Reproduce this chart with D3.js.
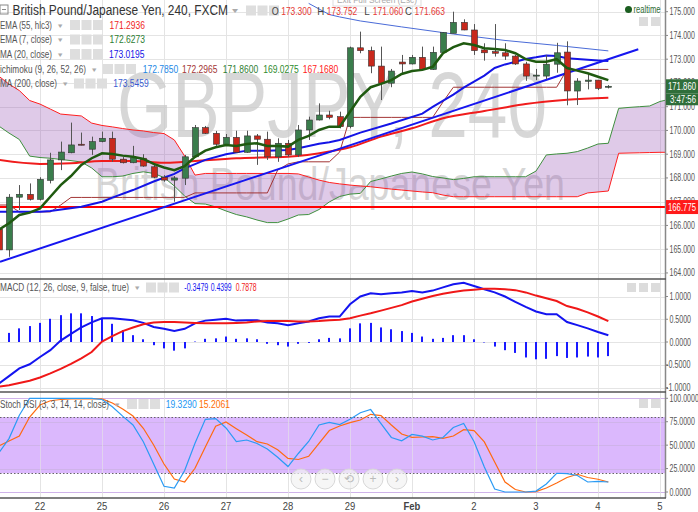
<!DOCTYPE html>
<html><head><meta charset="utf-8">
<script src="https://cdn.jsdelivr.net/npm/d3@7"></script>
<style>
body{margin:0;background:#fff;}
svg{display:block;font-family:"Liberation Sans",Arial,sans-serif;}
</style>
</head><body>
<svg id="c" width="698" height="512"></svg>
<script>
// ---------------- DATA ----------------
const firstIndex = -4; // candle index of first visible candle (index 0 = Jan 22 00:00)
const opens  = [165.85,164.97,167.19,167.31,167.10,167.90,168.76,169.06,169.42,169.21,169.53,169.67,168.79,168.64,168.83,168.47,168.03,167.91,167.99,168.89,170.12,169.88,169.42,169.71,169.08,169.77,169.63,168.89,169.46,168.97,170.02,170.44,170.65,170.58,170.16,173.48,173.36,172.71,171.99,172.88,172.80,173.08,172.57,173.29,174.09,174.55,174.23,173.39,173.32,173.27,173.13,172.80,172.29,172.29,172.79,173.300,171.66,172.07,172.12,171.82];
const highs  = [166.10,167.32,167.70,167.77,168.03,169.06,169.53,170.33,169.91,169.74,169.95,169.95,168.88,169.35,169.00,168.55,168.12,168.08,168.97,170.23,170.19,169.98,169.85,169.99,169.99,169.85,169.95,169.67,169.60,170.23,170.58,171.14,170.83,170.79,173.53,174.16,173.53,173.53,172.59,173.18,173.18,173.53,173.53,174.14,175.00,174.68,174.48,173.67,174.48,173.67,173.18,172.89,172.59,173.18,173.69,173.752,172.20,172.38,172.12,171.91];
const lows   = [164.85,164.68,166.65,167.05,167.05,167.77,168.33,169.04,169.37,168.97,169.50,168.68,168.61,168.62,168.47,167.99,167.84,167.00,167.70,168.89,169.85,169.35,169.35,169.06,169.06,168.55,168.76,168.68,168.89,168.88,169.60,170.42,170.47,170.09,170.09,173.25,172.41,171.28,171.82,172.41,172.78,172.55,172.55,173.25,174.09,174.22,173.18,172.94,173.11,172.97,172.76,172.09,172.12,172.15,172.43,171.060,171.07,171.73,171.70,171.77];
const closes = [164.97,167.19,167.31,167.10,167.94,168.76,169.09,169.39,169.39,169.53,169.67,168.79,168.64,168.85,168.50,168.03,167.91,168.00,168.89,170.12,169.88,169.42,169.71,169.08,169.77,169.63,168.89,169.46,168.97,170.02,170.44,170.65,170.55,170.16,173.48,173.36,172.71,171.99,172.50,172.80,173.08,172.57,173.29,174.12,174.55,174.23,173.36,173.27,173.25,173.13,172.80,172.29,172.33,172.79,173.27,171.663,172.08,172.12,171.77,171.86];

// EMA(7) per candle (from firstIndex)
const ema7 = [165.81,166.09,166.44,166.54,166.72,167.21,167.70,168.08,168.55,168.83,169.04,169.01,168.94,168.89,168.80,168.59,168.44,168.33,168.50,168.89,169.15,169.29,169.39,169.35,169.43,169.46,169.35,169.35,169.32,169.60,169.77,170.02,170.16,170.16,170.79,171.42,171.82,171.96,172.12,172.38,172.50,172.55,172.68,173.25,173.51,173.67,173.60,173.46,173.43,173.39,173.25,173.00,172.89,172.89,173.00,172.63,172.52,172.41,172.26,172.12];
// EMA(55) sampled at candle indices
const ema55Idx = [-4,0,3,6,9,12,14,19,24,28,30,33,36,39,43,45,47,51,55];
const ema55Val = [168.76,168.59,168.62,168.71,168.71,168.64,168.68,168.83,168.89,169.11,169.29,169.74,170.09,170.51,170.82,170.97,171.11,171.29,171.38];
// MA(20)
const ma20Idx = [-4,0,1,4,6,7,9,11,13,14,16,18,20,22,24,25,27,28,29,31,34,37,38,40,41,42,43,44,45,46,47,48,49,50,51,52,53,54,55];
const ma20Val = [166.58,166.58,166.61,166.79,167.00,167.17,167.49,167.85,168.17,168.40,168.76,169.00,169.15,169.15,169.18,169.25,169.44,169.50,169.60,169.91,170.29,170.71,170.99,171.51,171.80,172.06,172.31,172.63,172.78,172.89,173.01,173.08,173.16,173.13,173.04,173.01,172.98,172.95,172.92];
// MA(200)
const ma200Idx = [26,28,29,31,35,40,45,50,55];
const ma200Val = [175.35,174.88,174.78,174.61,174.36,174.06,173.79,173.58,173.35];
// Ichimoku base line (per candle from firstIndex)
const ichiBase = [166.86,166.86,166.57,166.57,166.57,166.57,166.86,167.18,167.18,167.18,167.18,167.18,167.18,167.18,167.18,167.18,167.18,167.18,167.18,167.37,167.37,167.37,167.37,167.37,167.37,167.37,167.37,168.33,168.59,168.68,168.68,168.68,168.68,169.09,170.55,170.55,170.55,170.55,170.55,170.55,170.55,170.55,170.55,171.20,171.82,171.82,171.82,171.82,171.82,171.82,171.82,171.82,171.82,171.82,171.82,172.57,172.57,172.57,172.57,172.57];
// Ichimoku cloud leading spans (from firstIndex to index 61)
const spanA = [170.19,169.89,169.62,168.92,168.86,168.83,168.78,168.73,168.67,168.42,168.05,168.05,168.08,168.19,168.26,168.19,168.02,167.66,167.24,166.92,166.90,166.78,166.61,166.46,166.36,166.23,166.12,166.12,166.27,166.44,166.46,166.67,166.99,167.22,167.32,167.35,167.85,167.96,168.08,168.19,168.25,168.17,168.06,168.00,167.93,167.98,168.05,168.05,168.05,168.05,168.05,168.05,168.29,168.97,169.01,169.04,169.11,169.26,169.43,169.46,170.93,170.97,171.00,171.03,171.22,171.32];
const spanB = [172.29,171.95,171.68,171.26,171.11,170.90,170.69,170.65,170.61,170.31,170.21,170.15,170.08,170.02,169.98,169.91,169.87,169.60,168.92,168.12,168.19,168.19,168.19,168.19,168.19,168.19,168.19,168.19,168.19,168.17,168.04,167.91,167.81,167.75,167.70,167.66,167.63,167.58,167.53,167.49,167.45,167.41,167.38,167.28,167.21,167.21,167.21,167.21,167.21,167.21,167.21,167.21,167.21,167.21,167.21,167.21,167.21,167.37,167.41,167.45,169.04,169.05,169.06,169.07,169.08,169.08];
// Trend line anchors (candle index, price)
const trendIdx = [-3.87, 57.9];
const trendVal = [164.47, 173.42];
const hLevel = 166.775;

// MACD per candle (from firstIndex)
const macd   = [-0.92,-0.75,-0.58,-0.49,-0.33,-0.18,0.03,0.18,0.32,0.43,0.52,0.52,0.50,0.48,0.42,0.33,0.29,0.24,0.29,0.41,0.47,0.49,0.51,0.47,0.48,0.48,0.43,0.41,0.37,0.41,0.45,0.52,0.56,0.56,0.83,1.00,1.07,1.05,1.07,1.09,1.12,1.09,1.13,1.20,1.27,1.30,1.23,1.16,1.09,1.00,0.88,0.77,0.67,0.61,0.61,0.44,0.37,0.30,0.22,0.15];
const signal = [-0.98,-0.95,-0.90,-0.85,-0.78,-0.69,-0.59,-0.48,-0.36,-0.22,0.01,0.13,0.24,0.32,0.39,0.43,0.44,0.44,0.43,0.42,0.41,0.41,0.41,0.42,0.43,0.45,0.46,0.46,0.46,0.45,0.45,0.46,0.48,0.49,0.52,0.58,0.63,0.69,0.75,0.81,0.89,0.95,1.01,1.06,1.10,1.13,1.15,1.17,1.17,1.16,1.14,1.09,1.02,0.96,0.90,0.79,0.73,0.65,0.56,0.46];
const hist   = [0.15,0.20,0.30,0.35,0.42,0.51,0.59,0.63,0.63,0.57,0.52,0.40,0.26,0.15,0.06,-0.07,-0.14,-0.19,-0.14,0.01,0.07,0.08,0.12,0.07,0.08,0.06,-0.04,-0.07,-0.10,-0.04,-0.02,0.06,0.09,0.08,0.30,0.41,0.42,0.32,0.28,0.24,0.20,0.12,0.07,0.09,0.15,0.15,0.06,-0.01,-0.10,-0.18,-0.24,-0.34,-0.38,-0.37,-0.31,-0.35,-0.34,-0.32,-0.34,-0.31];
// Stoch RSI per candle (from firstIndex)
const stochK = [41.6,57.0,82.0,100,100,100,100,100,100,100,98.7,91.0,81.0,71.5,53.7,29.9,6.1,4.3,22.9,52.0,77.6,78.4,68.3,53.9,55.5,51.8,45.9,37.0,27.2,41.1,53.9,71.5,74.2,72.0,77.6,84.6,88.0,72.9,58.2,54.7,61.4,59.6,55.5,58.2,68.8,73.1,53.9,26.7,3.2,0,0,0,1.0,8.5,20.0,19.7,17.6,10.7,11.4,10.7];
const stochD = [49.0,54.4,59.8,80.0,92.8,97.4,98.7,99.3,99.3,99.3,99.3,95.0,88.6,81.1,68.0,50.2,29.9,13.9,10.7,25.3,48.0,70.1,74.7,67.6,60.8,53.7,51.2,45.1,35.8,34.7,38.1,51.8,65.6,70.4,74.0,76.8,82.9,81.6,71.5,61.9,58.4,58.7,59.0,57.3,59.8,66.5,65.6,53.4,32.0,10.7,2.7,0,0.5,4.3,9.6,15.5,18.9,15.5,13.6,10.7];

// Axis labels
const dayIdx    = [0,6,12,18,24,30,36,42,48,54,60];
const dayLabels = ["22","25","26","27","28","29","Feb","2","3","4","5"];
const priceTicks = [164,165,166,167,168,169,170,171,172,173,174,175];
const macdTicks = [-1,-0.5,0,0.5,1];
const stochTicks = [0,25,50,75,100];

// ---------------- LAYOUT ----------------
const W = 698, plotR = 665;
const svg = d3.select("#c");
const x = d3.scaleLinear().domain([0,60]).range([40,660]);
const yP = d3.scaleLinear().domain([164,175]).range([272.95,11.7]);
const yM = d3.scaleLinear().domain([-1,1]).range([387.5,296.5]);
const yS = d3.scaleLinear().domain([0,100]).range([492,398.3]);
const panels = [{id:"pMain",y0:0,y1:279},{id:"pMacd",y0:279,y1:392},{id:"pStoch",y0:392,y1:498}];
const defs = svg.append("defs");
panels.forEach(p=>defs.append("clipPath").attr("id",p.id).append("rect").attr("x",0).attr("y",p.y0).attr("width",plotR).attr("height",p.y1-p.y0));

// text helper: width-controlled text
function T(g, xx, yy, s, o={}){
  const t = g.append("text").attr("x",xx).attr("y",yy).attr("font-size",o.size||10)
    .attr("fill",o.fill||"#555").attr("text-anchor",o.anchor||"start").text(s);
  if(o.weight) t.attr("font-weight",o.weight);
  const nat = t.node().getComputedTextLength();
  const w = o.w || nat*(o.r||0.85);
  t.attr("textLength",w).attr("lengthAdjust","spacingAndGlyphs");
  return t;
}

svg.append("rect").attr("width",W).attr("height",512).attr("fill","#fff");
const grid = svg.append("g").attr("stroke","#e4e4e4").attr("stroke-width",1);
dayIdx.forEach(d=>grid.append("line").attr("x1",Math.round(x(d))+0.5).attr("x2",Math.round(x(d))+0.5).attr("y1",0).attr("y2",498));
priceTicks.forEach(v=>grid.append("line").attr("x1",0).attr("x2",plotR).attr("y1",Math.round(yP(v))+0.5).attr("y2",Math.round(yP(v))+0.5));
macdTicks.forEach(v=>grid.append("line").attr("x1",0).attr("x2",plotR).attr("y1",Math.round(yM(v))+0.5).attr("y2",Math.round(yM(v))+0.5));

const idx = (i)=> firstIndex + i;

// ---------- MAIN PANEL ----------
const gm = svg.append("g").attr("clip-path","url(#pMain)");
gm.append("text").attr("x",332).attr("y",137).attr("text-anchor","middle").attr("font-size",92)
  .attr("fill","#c9c9c9").attr("fill-opacity",0.75).attr("textLength",430).attr("lengthAdjust","spacingAndGlyphs").text("GBPJPY, 240");
gm.append("text").attr("x",330).attr("y",200).attr("text-anchor","middle").attr("font-size",46)
  .attr("fill","#c9c9c9").attr("fill-opacity",0.75).attr("textLength",470).attr("lengthAdjust","spacingAndGlyphs").text("British Pound/Japanese Yen");

const cloudData = spanA.map((a,i)=>({k:idx(i),a:a,b:spanB[i]}));
gm.append("path").datum(cloudData).attr("fill","#9b59b6").attr("fill-opacity",0.32)
  .attr("d",d3.area().x(d=>x(d.k)).y0(d=>yP(d.a)).y1(d=>yP(d.b)));
gm.append("path").datum(cloudData).attr("fill","none").attr("stroke","#3f8f3f").attr("stroke-width",1)
  .attr("d",d3.line().x(d=>x(d.k)).y(d=>yP(d.a)));
gm.append("path").datum(cloudData).attr("fill","none").attr("stroke","#ff2020").attr("stroke-width",1)
  .attr("d",d3.line().x(d=>x(d.k)).y(d=>yP(d.b)));

gm.append("line").attr("x1",0).attr("x2",plotR).attr("y1",yP(hLevel)).attr("y2",yP(hLevel)).attr("stroke","#ff0000").attr("stroke-width",2);

gm.append("path").datum(ichiBase.map((v,i)=>[idx(i),v])).attr("fill","none").attr("stroke","#a33535").attr("stroke-width",1)
  .attr("d",d3.line().x(d=>x(d[0])).y(d=>yP(d[1])));
gm.append("path").datum(ma200Idx.map((k,i)=>[k,ma200Val[i]])).attr("fill","none").attr("stroke","#4a6bd8").attr("stroke-width",1)
  .attr("d",d3.line().x(d=>x(d[0])).y(d=>yP(d[1])));
gm.append("path").datum(ema55Idx.map((k,i)=>[k,ema55Val[i]])).attr("fill","none").attr("stroke","#f01c1c").attr("stroke-width",2)
  .attr("d",d3.line().curve(d3.curveMonotoneX).x(d=>x(d[0])).y(d=>yP(d[1])));
gm.append("path").datum(ma20Idx.map((k,i)=>[k,ma20Val[i]])).attr("fill","none").attr("stroke","#1414e6").attr("stroke-width",2)
  .attr("d",d3.line().x(d=>x(d[0])).y(d=>yP(d[1])));
gm.append("line").attr("x1",x(trendIdx[0])).attr("x2",x(trendIdx[1])).attr("y1",yP(trendVal[0])).attr("y2",yP(trendVal[1]))
  .attr("stroke","#1616f0").attr("stroke-width",2);
const cg = gm.append("g");
opens.forEach((o,i)=>{
  const k = idx(i), c = closes[i], up = c >= o;
  const cx = Math.round(x(k))+0.5;
  cg.append("line").attr("x1",cx).attr("x2",cx).attr("y1",yP(highs[i])).attr("y2",yP(lows[i])).attr("stroke","#555").attr("stroke-width",1);
  const top = yP(Math.max(o,c)), bot = yP(Math.min(o,c));
  cg.append("rect").attr("x",cx-3).attr("y",top).attr("width",6).attr("height",Math.max(1,bot-top))
    .attr("fill",up?"#3a7d4c":"#c8281c").attr("stroke","#333").attr("stroke-width",0.6);
});
gm.append("path").datum(ema7.map((v,i)=>[idx(i),v])).attr("fill","none").attr("stroke","#1f5a10").attr("stroke-width",2.5)
  .attr("d",d3.line().x(d=>x(d[0])).y(d=>yP(d[1])));

// faded "Exit Full Screen" hint at the top edge
gm.append("rect").attr("x",333).attr("y",-8).attr("width",88).attr("height",14).attr("fill","#fff").attr("fill-opacity",0.8).attr("stroke","#ddd");
T(gm, 337, 3, "Exit Full Screen (Esc)", {size:9, fill:"#aaa", w:80});

// ---------- MACD PANEL ----------
const gM = svg.append("g").attr("clip-path","url(#pMacd)");
hist.forEach((h,i)=>{
  const k = idx(i);
  gM.append("rect").attr("x",Math.round(x(k))-1).attr("width",2).attr("y",Math.min(yM(0),yM(h))).attr("height",Math.abs(yM(h)-yM(0))).attr("fill","#1a1aff");
});
gM.append("path").datum(macd.map((v,i)=>[idx(i),v])).attr("fill","none").attr("stroke","#1414f0").attr("stroke-width",2)
  .attr("d",d3.line().x(d=>x(d[0])).y(d=>yM(d[1])));
gM.append("path").datum(signal.map((v,i)=>[idx(i),v])).attr("fill","none").attr("stroke","#f01818").attr("stroke-width",2)
  .attr("d",d3.line().x(d=>x(d[0])).y(d=>yM(d[1])));

// ---------- STOCH PANEL ----------
const gS = svg.append("g").attr("clip-path","url(#pStoch)");
gS.append("rect").attr("x",0).attr("width",plotR).attr("y",yS(80)).attr("height",yS(20)-yS(80)).attr("fill","#dbb8fd");
stochTicks.forEach(v=>gS.append("line").attr("x1",0).attr("x2",plotR).attr("y1",Math.round(yS(v))+0.5).attr("y2",Math.round(yS(v))+0.5).attr("stroke","#cfb3ea").attr("stroke-width",1));
dayIdx.forEach(d=>gS.append("line").attr("x1",Math.round(x(d))+0.5).attr("x2",Math.round(x(d))+0.5).attr("y1",392).attr("y2",498).attr("stroke","#e4e4e4").attr("stroke-opacity",0.6));
[80,20].forEach(v=>gS.append("line").attr("x1",0).attr("x2",plotR).attr("y1",Math.round(yS(v))+0.5).attr("y2",Math.round(yS(v))+0.5).attr("stroke","#666").attr("stroke-dasharray","1.5,2"));
gS.append("path").datum(stochD.map((v,i)=>[idx(i),v])).attr("fill","none").attr("stroke","#ff6a10").attr("stroke-width",1.2)
  .attr("d",d3.line().x(d=>x(d[0])).y(d=>yS(d[1])));
gS.append("path").datum(stochK.map((v,i)=>[idx(i),v])).attr("fill","none").attr("stroke","#2b9bf4").attr("stroke-width",1.2)
  .attr("d",d3.line().x(d=>x(d[0])).y(d=>yS(d[1])));
const nav = ["‹","−","⟲","+","›"];
nav.forEach((t,i)=>{
  const cx = 301+i*24, cy=479;
  gS.append("circle").attr("cx",cx).attr("cy",cy).attr("r",10).attr("fill","#f2f2f2").attr("fill-opacity",0.7).attr("stroke","#d8d8d8");
  gS.append("text").attr("x",cx).attr("y",cy+4).attr("text-anchor","middle").attr("font-size",12).attr("fill","#bbb").text(t);
});

// ---------- SEPARATORS & AXES ----------
svg.append("line").attr("x1",plotR+0.5).attr("x2",plotR+0.5).attr("y1",0).attr("y2",498).attr("stroke","#888").attr("stroke-width",1.5);
[279,392,498].forEach(yy=>svg.append("line").attr("x1",0).attr("x2",plotR+1).attr("y1",yy).attr("y2",yy).attr("stroke","#555").attr("stroke-width",1.5));

const ax = svg.append("g");
function axLabel(yy, s){
  ax.append("line").attr("x1",plotR).attr("x2",plotR+3).attr("y1",yy).attr("y2",yy).attr("stroke","#888");
  const neg = s[0]==="-";
  const digits = s.replace(/[^0-9]/g,"").length;
  T(ax, neg?666:669.5, yy+3.5, s, {size:10, fill:"#555", w: digits*3.9+2+(neg?3:0)});
}
priceTicks.forEach(v=>axLabel(yP(v), d3.format(".3f")(v)));
macdTicks.forEach(v=>axLabel(yM(v), d3.format(".4f")(v).replace("−","-")));
stochTicks.forEach(v=>axLabel(yS(v), d3.format(".4f")(v)));
dayIdx.forEach((d,i)=>{
  T(ax, x(d), 510, dayLabels[i], {size:10.5, fill:"#444", anchor:"middle", weight: dayLabels[i]==="Feb"?"bold":null, r:0.9});
});

function tag(v, color, s){
  const yy = yP(v);
  svg.append("rect").attr("x",plotR+1).attr("y",yy-7).attr("width",W-plotR).attr("height",14).attr("fill",color);
  T(svg, 668, yy+3.5, s, {size:10, fill:"#fff", w:28});
}
tag(hLevel,"#ff1a1a","166.775");
tag(closes[closes.length-1],"#2f6e3a","171.860");
svg.append("rect").attr("x",plotR+1).attr("y",yP(closes[closes.length-1])+7).attr("width",W-plotR).attr("height",12).attr("fill","#2f6e3a");
T(svg, 670, yP(closes[closes.length-1])+16.5, "3:47:56", {size:10, fill:"#fff", w:26});

// ---------- LEGENDS ----------
function icons(g, x0, y0){
  for(let i=0;i<3;i++) g.append("rect").attr("x",x0+i*11.5).attr("y",y0-8.5).attr("width",10).attr("height",10).attr("fill","#dedede");
}
const lg = svg.append("g");
lg.append("rect").attr("x",0).attr("y",5).attr("width",8).attr("height",9).attr("fill","none").attr("stroke","#888");
lg.append("line").attr("x1",2).attr("x2",6).attr("y1",9.5).attr("y2",9.5).attr("stroke","#888");
T(lg, 12.5, 15, "British Pound/Japanese Yen, 240, FXCM", {size:14, fill:"#333", w:215.5});
T(lg, 232, 13, "▾", {size:8, fill:"#aaa", w:6});
icons(lg,246,14);
[["O","173.300",271.7],["H","173.752",317.3],["L","171.060",363.3],["C","171.663",405]].forEach(o=>{
  T(lg, o[0]==="L"?o[2]+1:o[2], 15, o[0], {size:11, fill:"#444", w:o[0]==="L"?5.5:7});
  T(lg, o[2]+9.5, 15, o[1], {size:11, fill:"#e53935", w:30.5});
});
const legends = [
  {name:"EMA (55, hlc3)", nw:52, y:28.5, ix:70, vals:[["171.2936","#f01c1c",109.5]]},
  {name:"EMA (7, close)", nw:52, y:43, ix:70, vals:[["172.6273","#2e7d32",109.5]]},
  {name:"MA (20, close)", nw:52, y:57.5, ix:70, vals:[["173.0195","#1414e6",109]]},
  {name:"ichimoku (9, 26, 52, 26)", nw:86, y:72.5, ix:103, vals:[["172.7850","#1e88e5",142.7],["172.2965","#a33535",182],["171.8600","#2e7d32",222.7],["169.0275","#2e8b2e",263.3],["167.1680","#ff2020",302.7]]},
  {name:"MA (200, close)", nw:57, y:87, ix:74, vals:[["173.5459","#3a5bd0",113.3]]},
];
legends.forEach(l=>{
  T(lg, 0, l.y, l.name, {size:10, fill:"#555", w:l.nw});
  T(lg, l.nw+6, l.y-1, "▾", {size:7, fill:"#aaa", w:5});
  icons(lg,l.ix,l.y);
  l.vals.forEach(v=> T(lg, v[2], l.y, v[0], {size:10, fill:v[1], w:35.5}));
});
lg.append("circle").attr("cx",628.5).attr("cy",9.5).attr("r",3.5).attr("fill","#1b5e20");
T(lg, 633.5, 13, "realtime", {size:10, fill:"#2e6b34", w:27});
lg.append("rect").attr("x",639).attr("y",17).attr("width",9).attr("height",9).attr("fill","#dcdcdc");
lg.append("rect").attr("x",651).attr("y",17).attr("width",9).attr("height",9).attr("fill","#dcdcdc");
T(lg, 0, 291, "MACD (12, 26, close, 9, false, true)", {size:10, fill:"#555", w:129});
T(lg, 135, 290, "▾", {size:7, fill:"#aaa", w:5});
icons(lg,146,291);
[["-0.3479","#1414f0",184.3,24],["0.4399","#1414f0",210.7,21],["0.7878","#f01818",235.7,21]].forEach(v=>T(lg, v[2], 291, v[0], {size:10, fill:v[1], w:v[3]}));
[627,639,651].forEach(xx=>lg.append("rect").attr("x",xx).attr("y",283).attr("width",9).attr("height",9).attr("fill","#dcdcdc"));
T(lg, 0, 407.5, "Stoch RSI (3, 3, 14, 14, close)", {size:10, fill:"#555", w:109});
T(lg, 115, 406.5, "▾", {size:7, fill:"#aaa", w:5});
icons(lg,127,407.5);
[["19.3290","#2196f3",165.7],["15.2061","#ff6d00",199]].forEach(v=>T(lg, v[2], 407.5, v[0], {size:10, fill:v[1], w:31}));
[639,651].forEach(xx=>lg.append("rect").attr("x",xx).attr("y",399).attr("width",9).attr("height",9).attr("fill","#dcdcdc"));
</script>
</body></html>
